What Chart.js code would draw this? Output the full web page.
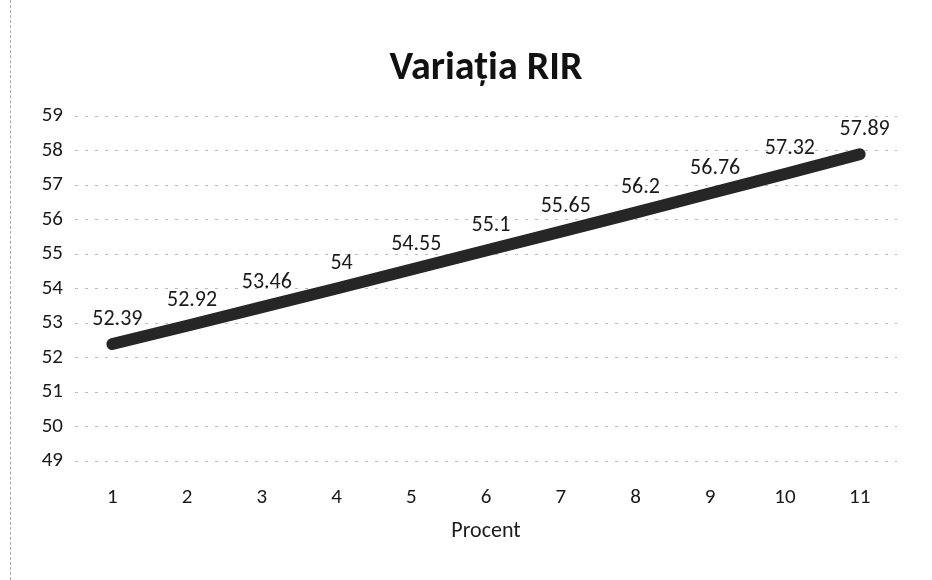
<!DOCTYPE html>
<html>
<head>
<meta charset="utf-8">
<script src="https://cdn.jsdelivr.net/npm/chart.js@4"></script>
<style>
  html, body { margin: 0; padding: 0; background: #fff; }
  #wrap { position: relative; width: 932px; height: 580px; }
  #wrap:before { content: ""; position: absolute; left: 10px; top: 0; bottom: 0; border-left: 1px dashed #aaa; }
</style>
</head>
<body>
<div id="wrap"><canvas id="rirChart" width="932" height="580"></canvas></div>
<script>
// DATA
const categories = ["1","2","3","4","5","6","7","8","9","10","11"];
const rirValues = [52.39, 52.92, 53.46, 54, 54.55, 55.1, 55.65, 56.2, 56.76, 57.32, 57.89];
const yMin = 49, yMax = 59;
const chartTitle = 'Variația RIR';

const FONT = "Carlito, Lato, 'Liberation Sans', sans-serif";

// title centred over the plot area + value labels above each point
const extras = {
    id: 'extras',
    afterDatasetsDraw(chart){
        const ctx = chart.ctx;
        const area = chart.chartArea;
        ctx.save();
        ctx.font = `bold 40px ${FONT}`;
        ctx.fillStyle = '#111';
        ctx.textAlign = 'center';
        ctx.textBaseline = 'alphabetic';
        ctx.fillText(chartTitle, (area.left + area.right)/2, 79);

        const meta = chart.getDatasetMeta(0);
        ctx.font = `22px ${FONT}`;
        ctx.fillStyle = '#1a1a1a';
        ctx.textBaseline = 'middle';
        meta.data.forEach((pt,i)=>{
            ctx.fillText(String(rirValues[i]), pt.x + 5, pt.y - 25);
        });
        ctx.restore();
    }
};

new Chart(document.getElementById('rirChart'),{
    type:'line',
    data:{
        labels: categories,
        datasets:[{
            data: rirValues,
            borderColor:'#262626',
            borderWidth:12,
            borderCapStyle:'round',
            pointRadius:0,
            tension:0
        }]
    },
    options:{
        responsive:false,
        animation:false,
        layout:{ padding:{ top:116, right:35, bottom:31, left:0 } },
        plugins:{
            legend:{ display:false },
            tooltip:{ enabled:false },
            title:{ display:false }
        },
        scales:{
            x:{
                offset:true,
                grid:{ display:false },
                border:{ display:false },
                ticks:{ color:'#1a1a1a', font:{ family:FONT, size:21 }, padding:16 },
                title:{ display:true, text:'Procent', color:'#1a1a1a', font:{ family:FONT, size:22 } },
                afterFit(scale){ scale.height = 88; }
            },
            y:{
                min:yMin, max:yMax,
                ticks:{ stepSize:1, color:'#1a1a1a', font:{ family:FONT, size:21 }, padding:12 },
                grid:{ color:'#bbb', lineWidth:1, drawTicks:false },
                border:{ display:false, dash:[3,7] },
                afterFit(scale){ scale.width = 75; }
            }
        }
    },
    plugins:[extras]
});
</script>
</body>
</html>
